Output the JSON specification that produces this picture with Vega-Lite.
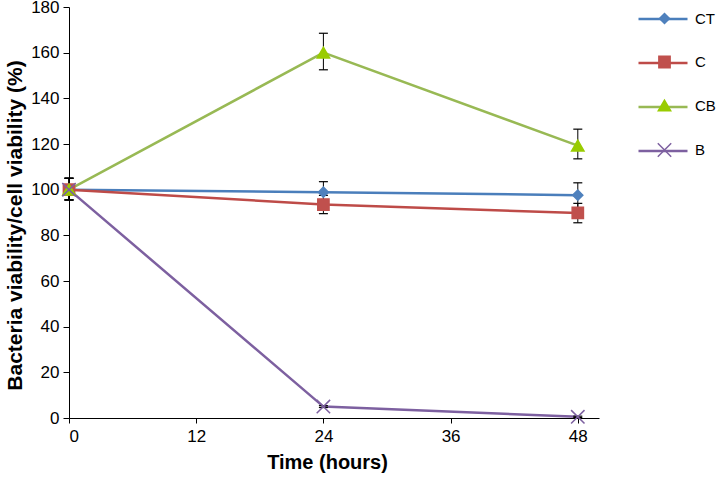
{
  "$schema": "https://vega.github.io/schema/vega-lite/v6.json",
  "width": 530,
  "height": 411,
  "autosize": {"type": "none"},
  "padding": {"left": 69, "top": 7, "right": 117, "bottom": 61},
  "background": "white",
  "config": {"view": {"stroke": null}, "font": "Liberation Sans"},
  "data": {
    "values": [
      {"series": "CT", "t": 0, "v": 100, "lo": 95.5, "hi": 105},
      {"series": "CT", "t": 24, "v": 98.9, "lo": 94, "hi": 103.5},
      {"series": "CT", "t": 48, "v": 97.6, "lo": 92, "hi": 103},
      {"series": "C", "t": 0, "v": 100, "lo": 95.5, "hi": 105},
      {"series": "C", "t": 24, "v": 93.5, "lo": 89.5, "hi": 97.5},
      {"series": "C", "t": 48, "v": 89.8, "lo": 85.5, "hi": 94},
      {"series": "CB", "t": 0, "v": 100, "lo": 95.5, "hi": 105},
      {"series": "CB", "t": 24, "v": 160, "lo": 152.5, "hi": 168.5},
      {"series": "CB", "t": 48, "v": 119.3, "lo": 113.5, "hi": 126.5},
      {"series": "B", "t": 0, "v": 100, "lo": 95.5, "hi": 105},
      {"series": "B", "t": 24, "v": 5, "lo": 4.6, "hi": 5.4},
      {"series": "B", "t": 48, "v": 0.5, "lo": 0.2, "hi": 0.8}
    ]
  },
  "layer": [
    {
      "mark": {"type": "line", "strokeWidth": 2.5},
      "encoding": {
        "x": {
          "field": "t", "type": "quantitative", "title": "Time (hours)",
          "scale": {"domain": [0, 50], "nice": false, "zero": false},
          "axis": {
            "values": [0, 12, 24, 36, 48], "grid": false,
            "domainColor": "#000", "tickColor": "#000", "tickSize": 5,
            "labelFontSize": 17, "labelColor": "#000", "labelPadding": 5,
            "titleFontSize": 20, "titleFontWeight": "bold", "titleColor": "#000",
            "titlePadding": 8, "titleX": 258
          }
        },
        "y": {
          "field": "v", "type": "quantitative", "title": "Bacteria viability/cell viability (%)",
          "scale": {"domain": [0, 180], "nice": false},
          "axis": {
            "values": [0, 20, 40, 60, 80, 100, 120, 140, 160, 180], "grid": false,
            "domainColor": "#000", "tickColor": "#000", "tickSize": 6,
            "labelFontSize": 17, "labelColor": "#000", "labelPadding": 4,
            "titleFontSize": 21, "titleFontWeight": "bold", "titleColor": "#000",
            "titlePadding": 5, "titleY": 218
          }
        },
        "color": {
          "field": "series", "type": "nominal",
          "sort": ["CT", "C", "CB", "B"],
          "scale": {"range": ["#4A7EBB", "#BE4B48", "#98B954", "#7D60A0"]},
          "legend": {
            "orient": "none", "legendX": 568, "legendY": -14, "title": null,
            "symbolType": "stroke", "symbolSize": 2401, "symbolStrokeWidth": 2.5,
            "labelFontSize": 15, "labelExpr": "' '", "labelOffset": 4, "rowPadding": 10
          }
        }
      }
    },
    {
      "mark": {"type": "rule", "color": "#000", "strokeWidth": 1},
      "encoding": {
        "x": {"field": "t", "type": "quantitative", "title": "Time (hours)"},
        "y": {"field": "lo", "type": "quantitative", "title": "Bacteria viability/cell viability (%)"},
        "y2": {"field": "hi"}
      }
    },
    {
      "mark": {"type": "tick", "orient": "horizontal", "color": "#000", "size": 9, "thickness": 1.2, "opacity": 1},
      "encoding": {
        "x": {"field": "t", "type": "quantitative", "title": "Time (hours)"},
        "y": {"field": "lo", "type": "quantitative", "title": "Bacteria viability/cell viability (%)"}
      }
    },
    {
      "mark": {"type": "tick", "orient": "horizontal", "color": "#000", "size": 9, "thickness": 1.2, "opacity": 1},
      "encoding": {
        "x": {"field": "t", "type": "quantitative", "title": "Time (hours)"},
        "y": {"field": "hi", "type": "quantitative", "title": "Bacteria viability/cell viability (%)"}
      }
    },
    {
      "mark": {"type": "point", "opacity": 1, "strokeWidth": 1.5},
      "encoding": {
        "x": {"field": "t", "type": "quantitative", "title": "Time (hours)"},
        "y": {"field": "v", "type": "quantitative", "title": "Bacteria viability/cell viability (%)"},
        "shape": {
          "field": "series", "type": "nominal",
          "scale": {"domain": ["CT", "C", "CB", "B"], "range": ["diamond", "square", "triangle-up", "M-1,-1L1,1M-1,1L1,-1"]},
          "legend": {
            "orient": "none", "legendX": 588, "legendY": 4, "title": null,
            "symbolStrokeWidth": 1.5,
            "labelFontSize": 15, "labelColor": "#000", "labelOffset": 23, "rowPadding": 25.5
          }
        },
        "fill": {
          "field": "series", "type": "nominal",
          "scale": {"domain": ["CT", "C", "CB", "B"], "range": ["#4F81BD", "#C0504D", "#99CC00", "transparent"]}
        },
        "stroke": {
          "field": "series", "type": "nominal",
          "scale": {"domain": ["CT", "C", "CB", "B"], "range": ["#4F81BD", "#C0504D", "#99CC00", "#7D60A0"]}
        },
        "size": {
          "field": "series", "type": "nominal",
          "scale": {"domain": ["CT", "C", "CB", "B"], "range": [100, 180, 150, 130]}
        }
      }
    }
  ]
}
